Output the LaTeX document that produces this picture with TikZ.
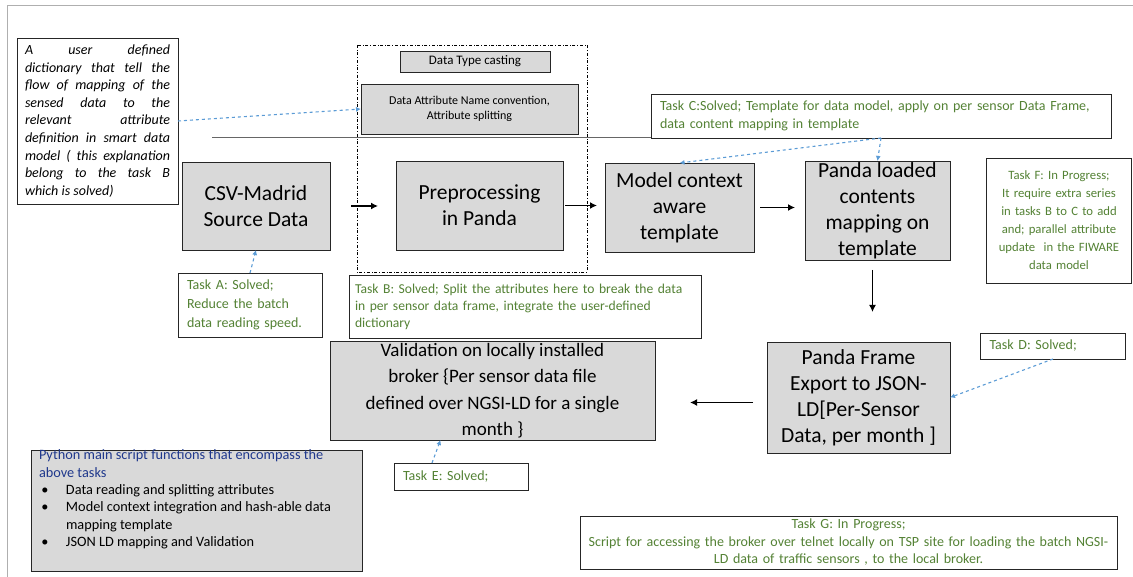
\documentclass[tikz,border=0pt]{standalone}
\usepackage{fontspec}
\setmainfont{Carlito}
\usetikzlibrary{arrows.meta}
\definecolor{boxgrey}{RGB}{217,217,217}
\definecolor{taskgreen}{RGB}{84,130,53}
\definecolor{hintblue}{RGB}{91,155,213}
\definecolor{pyblue}{RGB}{31,56,140}
\definecolor{framegrey}{RGB}{175,175,175}

\begin{document}
\begin{tikzpicture}[x=1pt,y=-1pt,
	every node/.style={inner sep=0pt,outer sep=0pt},
	stage/.style={draw=black!85,fill=boxgrey,align=center,font=\fontsize{21.5}{26}\selectfont},
	small/.style={draw=black!85,fill=boxgrey,align=center,font=\fontsize{12}{14.5}\selectfont},
	task/.style={draw=black!85,fill=white,text=taskgreen,inner xsep=9pt,font=\fontsize{14}{18.5}\selectfont},
	flow/.style={-{Latex[length=7pt,width=7pt]},line width=1.7pt},
	hint/.style={-{Latex[length=5pt,width=5pt]},dashed,draw=hintblue,line width=1.1pt}]
	\useasboundingbox (0,0) rectangle (1133,577);
	\draw[framegrey] (7,577) -- (7,5) -- (1133,5);
	\draw[black!60] (212,137) -- (651,137);
	
	% preprocessing group
	\draw[dash dot,line width=0.8pt] (357,45) rectangle (587,272);
	\node[small,minimum width=150,minimum height=21,font=\fontsize{13}{14}\selectfont] (cast) at (475,61.5) {Data Type casting};
	\node[small,minimum width=217,minimum height=50] (attr) at (469.5,109) {Data Attribute Name convention,\\Attribute splitting};
	
	% main stages
	\node[stage,minimum width=148,minimum height=88] (csv) at (256,206) {CSV-Madrid\\Source Data};
	\node[stage,minimum width=167,minimum height=89] (prep) at (479.5,205.5) {Preprocessing\\in Panda};
	\node[stage,minimum width=149,minimum height=89] (model) at (679.5,207.5) {Model context\\aware\\template};
	\node[stage,minimum width=145,minimum height=99] (load) at (877.5,210.5) {Panda loaded\\contents\\mapping on\\template};
	\node[stage,minimum width=183,minimum height=111] (frame) at (858.5,397.5) {Panda Frame\\Export to JSON-\\LD[Per-Sensor\\Data, per month ]};
	\node[stage,minimum width=325,minimum height=99,font=\fontsize{19}{26.5}\selectfont] (valid) at (492.5,390.5) {Validation on locally installed\\broker \{Per sensor data file\\defined over NGSI-LD for a single\\month \}};
	
	% notes
	\node[draw=black!85,fill=white,text width=145,inner xsep=8pt,minimum height=166,align=justify,
		font=\fontsize{14}{17.6}\selectfont\itshape] (dict) at (97.5,121)
		{A user defined\linebreak dictionary that tell the\linebreak flow of mapping of the\linebreak sensed data to the\linebreak relevant attribute\linebreak definition in smart data\linebreak model ( this explanation\linebreak belong to the task B\linebreak which is solved)};
	\node[task,text width=126,minimum height=64,align=left,font=\fontsize{14}{19}\selectfont] (taskA) at (250,305) {Task A: Solved;\\Reduce the batch\\data reading speed.};
	\node[task,text width=340,inner xsep=6pt,minimum height=63,align=left,font=\fontsize{13.6}{17}\selectfont] (taskB) at (525,306.5) {Task B: Solved; Split the attributes here to break the data\\in per sensor data frame, integrate the user-defined\\dictionary};
	\node[task,text width=442,minimum height=44,align=left,font=\fontsize{14}{18}\selectfont] (taskC) at (881,116) {Task C:Solved; Template for data model, apply on per sensor Data Frame,\\data content mapping in template};
	\node[task,text width=127,minimum height=26,align=left] (taskD) at (1053,346) {Task D: Solved;};
	\node[task,text width=116,minimum height=27,align=left] (taskE) at (461,476.5) {Task E: Solved;};
	\node[task,text width=137,inner xsep=4pt,minimum height=125,align=center,font=\fontsize{12.7}{18}\selectfont] (taskF) at (1059,220.5) {Task F: In Progress;\\It require extra series\\in tasks B to C to add\\and; parallel attribute\\update\ \ in the FIWARE\\data model};
	\node[task,text width=525,inner xsep=6pt,minimum height=53,align=center,font=\fontsize{14}{17.5}\selectfont] (taskG) at (848.5,542.5) {Task G: In Progress;\\Script for accessing the broker over telnet locally on TSP site for loading the batch NGSI-\\LD data of traffic sensors , to the local broker.};
	\node[draw=black!85,fill=boxgrey,inner xsep=8pt,font=\fontsize{14.3}{17.3}\selectfont] (py) at (196.5,510.5)
		{\begin{minipage}[c][121pt][t]{315pt}
		\color{pyblue}Python main script functions that encompass the\\above tasks\\
		\color{black}\makebox[27pt][l]{\,\textbullet}Data reading and splitting attributes\\
		\makebox[27pt][l]{\,\textbullet}Model context integration and hash-able data\\
		\hspace*{27pt}mapping template\\
		\makebox[27pt][l]{\,\textbullet}JSON LD mapping and Validation
		\end{minipage}};
	
	% flow arrows
	\draw[flow,shorten <=21pt,shorten >=18pt] (csv.east) -- (csv.east -| prep.west);
	\draw[flow,shorten <=2pt,shorten >=8pt] (prep.east) -- (prep.east -| model.west);
	\draw[flow,shorten <=6pt,shorten >=10pt] (model.east) -- (model.east -| load.west);
	\draw[flow,shorten <=10pt,shorten >=30pt] ([xshift=-5pt]load.south) -- ([xshift=-5pt]load.south |- frame.north);
	\draw[flow,shorten <=14pt,shorten >=35pt] ([yshift=-5pt]frame.west) -- ([yshift=-5pt]frame.west -| valid.east);
	
	% hints
	\draw[hint] (dict.east) -- (attr.west);
	\draw[hint] (taskA.north) -- (csv.south);
	\draw[hint] (taskC.south) -- (model.north);
	\draw[hint] (taskC.south) -- (load.north);
	\draw[hint] (taskD.south) -- (frame.east);
	\draw[hint] ([xshift=-29pt]taskE.north) -- ([xshift=-52pt]valid.south);
\end{tikzpicture}
\end{document}
